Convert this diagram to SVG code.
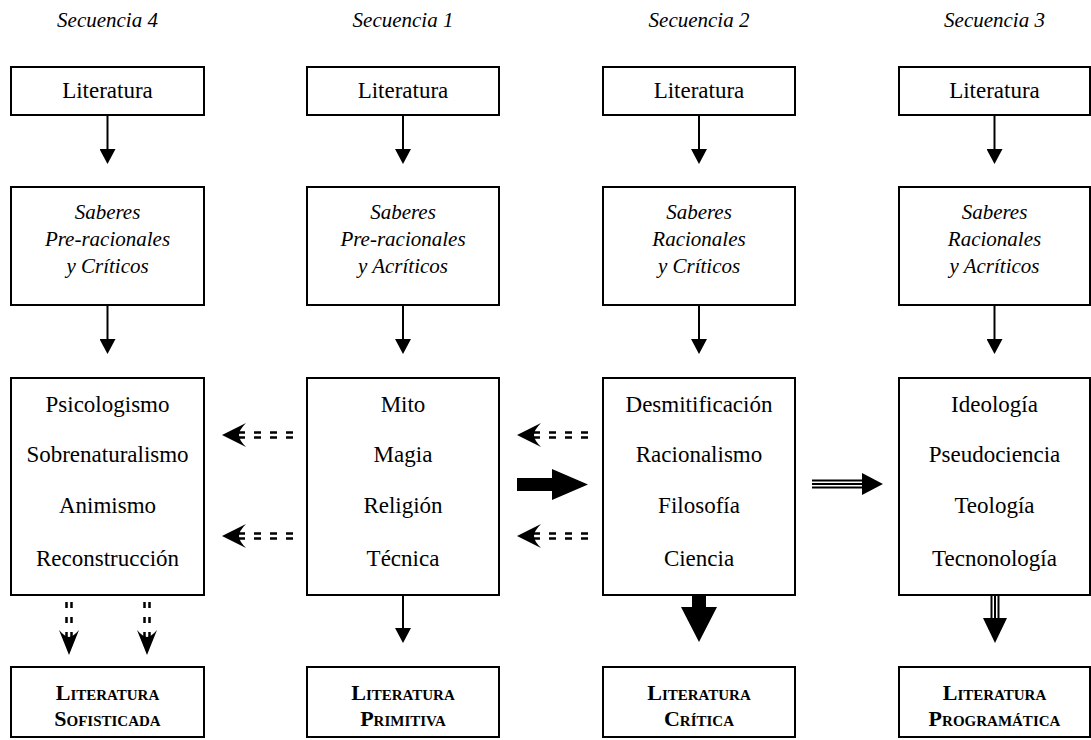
<svg xmlns="http://www.w3.org/2000/svg" width="1091" height="740" viewBox="0 0 1091 740">
<style>
.box{fill:#fff;stroke:#000;stroke-width:2}
.t{font-family:"Liberation Serif","Times New Roman",serif;font-size:23px;text-anchor:middle;fill:#000}
.i{font-family:"Liberation Serif","Times New Roman",serif;font-size:21px;font-style:italic;text-anchor:middle;fill:#000}
.sc{font-family:"Liberation Serif","Times New Roman",serif;font-size:22px;font-weight:bold;font-variant:small-caps;text-anchor:middle;fill:#000}
.ln{stroke:#000;stroke-width:2;fill:none}
.dd{stroke:#000;stroke-width:2.5;fill:none;stroke-dasharray:7 9}
.dv{stroke:#000;stroke-width:2.5;fill:none;stroke-dasharray:6 9}
.tl{stroke:#000;stroke-width:2;fill:none}
</style>
<defs>
<marker id="tri" viewBox="0 0 15 16" refX="0" refY="8" markerWidth="15" markerHeight="16" markerUnits="userSpaceOnUse" orient="auto">
<path d="M0,0 L15,8 L0,16 Z" fill="#000"/>
</marker>
<g id="dashL">
<line class="dd" x1="71" y1="-2.5" x2="15" y2="-2.5"/>
<line class="dd" x1="71" y1="2.5" x2="15" y2="2.5"/>
<path d="M0,0 L24,-12 Q17,-5 17,0 Q17,5 24,12 Z" fill="#000"/>
</g>
<g id="dashD">
<line class="dv" x1="-2.5" y1="-53" x2="-2.5" y2="-15"/>
<line class="dv" x1="2.5" y1="-53" x2="2.5" y2="-15"/>
<path d="M0,0 L-10,-25 Q-4,-18 0,-18 Q4,-18 10,-25 Z" fill="#000"/>
</g>
</defs>

<g id="headers">
<text class="i" x="107.5" y="27">Secuencia 4</text>
<text class="i" x="403" y="27">Secuencia 1</text>
<text class="i" x="699" y="27">Secuencia 2</text>
<text class="i" x="994.5" y="27">Secuencia 3</text>
</g>

<g id="connectors">
<line class="ln" x1="107.5" y1="115" x2="107.5" y2="149" marker-end="url(#tri)"/>
<line class="ln" x1="403" y1="115" x2="403" y2="149" marker-end="url(#tri)"/>
<line class="ln" x1="699" y1="115" x2="699" y2="149" marker-end="url(#tri)"/>
<line class="ln" x1="994.5" y1="115" x2="994.5" y2="149" marker-end="url(#tri)"/>
<line class="ln" x1="107.5" y1="305" x2="107.5" y2="339" marker-end="url(#tri)"/>
<line class="ln" x1="403" y1="305" x2="403" y2="339" marker-end="url(#tri)"/>
<line class="ln" x1="699" y1="305" x2="699" y2="339" marker-end="url(#tri)"/>
<line class="ln" x1="994.5" y1="305" x2="994.5" y2="339" marker-end="url(#tri)"/>
<line class="ln" x1="403" y1="595" x2="403" y2="628" marker-end="url(#tri)"/>
<use href="#dashL" transform="translate(222,435)"/>
<use href="#dashL" transform="translate(222,536)"/>
<use href="#dashL" transform="translate(517,435)"/>
<use href="#dashL" transform="translate(517,536)"/>
<use href="#dashD" transform="translate(69,655)"/>
<use href="#dashD" transform="translate(147,655)"/>
<polygon points="517,478 552,478 552,469 588,484.5 552,500 552,491 517,491" fill="#000"/>
<polygon points="692,595 706,595 706,607 717,607 699,642 681,607 692,607" fill="#000"/>
<line class="tl" x1="812" y1="480.5" x2="864" y2="480.5"/>
<line class="tl" x1="812" y1="484" x2="864" y2="484"/>
<line class="tl" x1="812" y1="487.5" x2="864" y2="487.5"/>
<polygon points="862,473 883,484 862,495" fill="#000"/>
<line class="tl" x1="991.5" y1="596" x2="991.5" y2="620"/>
<line class="tl" x1="995" y1="596" x2="995" y2="620"/>
<line class="tl" x1="998.5" y1="596" x2="998.5" y2="620"/>
<polygon points="983,618 1007,618 995,643" fill="#000"/>
</g>

<g id="lit4"><rect class="box" x="11" y="67" width="193" height="48"/><text class="t" x="107.5" y="98">Literatura</text></g>
<g id="lit1"><rect class="box" x="307" y="67" width="192" height="48"/><text class="t" x="403" y="98">Literatura</text></g>
<g id="lit2"><rect class="box" x="603" y="67" width="192" height="48"/><text class="t" x="699" y="98">Literatura</text></g>
<g id="lit3"><rect class="box" x="899" y="67" width="191" height="48"/><text class="t" x="994.5" y="98">Literatura</text></g>

<g id="sab4"><rect class="box" x="11" y="187" width="193" height="118"/>
<text class="i" x="107.5" y="219">Saberes</text><text class="i" x="107.5" y="246">Pre-racionales</text><text class="i" x="107.5" y="273">y Críticos</text></g>
<g id="sab1"><rect class="box" x="307" y="187" width="192" height="118"/>
<text class="i" x="403" y="219">Saberes</text><text class="i" x="403" y="246">Pre-racionales</text><text class="i" x="403" y="273">y Acríticos</text></g>
<g id="sab2"><rect class="box" x="603" y="187" width="192" height="118"/>
<text class="i" x="699" y="219">Saberes</text><text class="i" x="699" y="246">Racionales</text><text class="i" x="699" y="273">y Críticos</text></g>
<g id="sab3"><rect class="box" x="899" y="187" width="191" height="118"/>
<text class="i" x="994.5" y="219">Saberes</text><text class="i" x="994.5" y="246">Racionales</text><text class="i" x="994.5" y="273">y Acríticos</text></g>

<g id="con4"><rect class="box" x="11" y="378" width="193" height="217"/>
<text class="t" x="107.5" y="412">Psicologismo</text><text class="t" x="107.5" y="462">Sobrenaturalismo</text><text class="t" x="107.5" y="513">Animismo</text><text class="t" x="107.5" y="566">Reconstrucción</text></g>
<g id="con1"><rect class="box" x="307" y="378" width="192" height="217"/>
<text class="t" x="403" y="412">Mito</text><text class="t" x="403" y="462">Magia</text><text class="t" x="403" y="513">Religión</text><text class="t" x="403" y="566">Técnica</text></g>
<g id="con2"><rect class="box" x="603" y="378" width="192" height="217"/>
<text class="t" x="699" y="412">Desmitificación</text><text class="t" x="699" y="462">Racionalismo</text><text class="t" x="699" y="513">Filosofía</text><text class="t" x="699" y="566">Ciencia</text></g>
<g id="con3"><rect class="box" x="899" y="378" width="191" height="217"/>
<text class="t" x="994.5" y="412">Ideología</text><text class="t" x="994.5" y="462">Pseudociencia</text><text class="t" x="994.5" y="513">Teología</text><text class="t" x="994.5" y="566">Tecnonología</text></g>

<g id="out4"><rect class="box" x="11" y="667" width="193" height="70"/>
<text class="sc" x="107.5" y="700">Literatura</text><text class="sc" x="107.5" y="726">Sofisticada</text></g>
<g id="out1"><rect class="box" x="307" y="667" width="192" height="70"/>
<text class="sc" x="403" y="700">Literatura</text><text class="sc" x="403" y="726">Primitiva</text></g>
<g id="out2"><rect class="box" x="603" y="667" width="192" height="70"/>
<text class="sc" x="699" y="700">Literatura</text><text class="sc" x="699" y="726">Crítica</text></g>
<g id="out3"><rect class="box" x="899" y="667" width="191" height="70"/>
<text class="sc" x="994.5" y="700">Literatura</text><text class="sc" x="994.5" y="726">Programática</text></g>
</svg>
